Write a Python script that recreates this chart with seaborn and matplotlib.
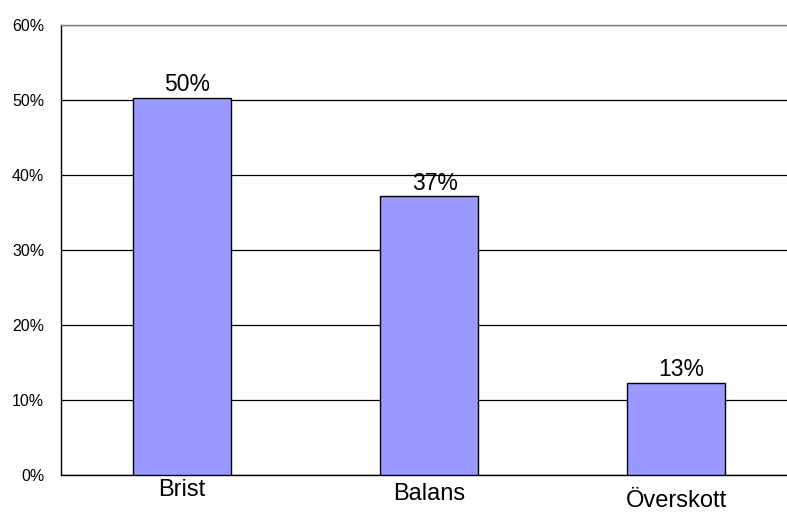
import matplotlib
matplotlib.use("Agg")
import matplotlib.pyplot as plt
import seaborn as sns
import pandas as pd

# --- Data ---
categories = ["Brist", "Balans", "Överskott"]
shares = [0.503, 0.372, 0.123]
value_labels = ["50%", "37%", "13%"]
y_ticks = [0.0, 0.1, 0.2, 0.3, 0.4, 0.5, 0.6]
y_tick_labels = ["0%", "10%", "20%", "30%", "40%", "50%", "60%"]

df = pd.DataFrame({"kategori": categories, "andel": shares})

# --- Style ---
sns.set_style("white")
plt.rcParams["font.family"] = ["Liberation Sans", "DejaVu Sans"]
plt.rcParams["text.color"] = "black"
plt.rcParams["xtick.color"] = "black"
plt.rcParams["ytick.color"] = "black"

fig = plt.figure(figsize=(7.87, 5.13), dpi=100)
ax = fig.add_axes([61 / 787, 38 / 513, 741 / 787, 450 / 513])

sns.barplot(
    data=df, x="kategori", y="andel", ax=ax,
    color="#9999FF", saturation=1, width=0.4,
    edgecolor="black", linewidth=1.0, zorder=3,
)

ax.set_xlim(-0.49, 2.51)
ax.set_ylim(0, 0.6)
ax.set_yticks(y_ticks)
ax.set_yticklabels(y_tick_labels, fontsize=11.5, color="black")
ax.tick_params(axis="y", length=0, pad=12, labelcolor="black")
ax.tick_params(axis="x", length=0, labelsize=17, labelcolor="black")
ax.set_xlabel("")
ax.set_ylabel("")

# staggered category labels as in the original
for tick, pad in zip(ax.xaxis.get_major_ticks(), [3, 6, 11]):
    tick.set_pad(pad)

# gridlines
ax.yaxis.grid(True, color="black", linewidth=0.9, zorder=0)
ax.set_axisbelow(True)

for side in ["left", "bottom"]:
    ax.spines[side].set_color("black")
    ax.spines[side].set_linewidth(1.0)
ax.spines["top"].set_color("#808080")
ax.spines["top"].set_linewidth(1.0)
ax.spines["right"].set_visible(False)

# value labels above the bars (sit slightly right of centre in the original)
for i, (v, lab) in enumerate(zip(shares, value_labels)):
    ax.annotate(lab, (i, v), xytext=(4, 1), textcoords="offset points",
                ha="center", va="bottom", fontsize=16.5, color="black", zorder=4)

fig.savefig("out.png", dpi=100)
